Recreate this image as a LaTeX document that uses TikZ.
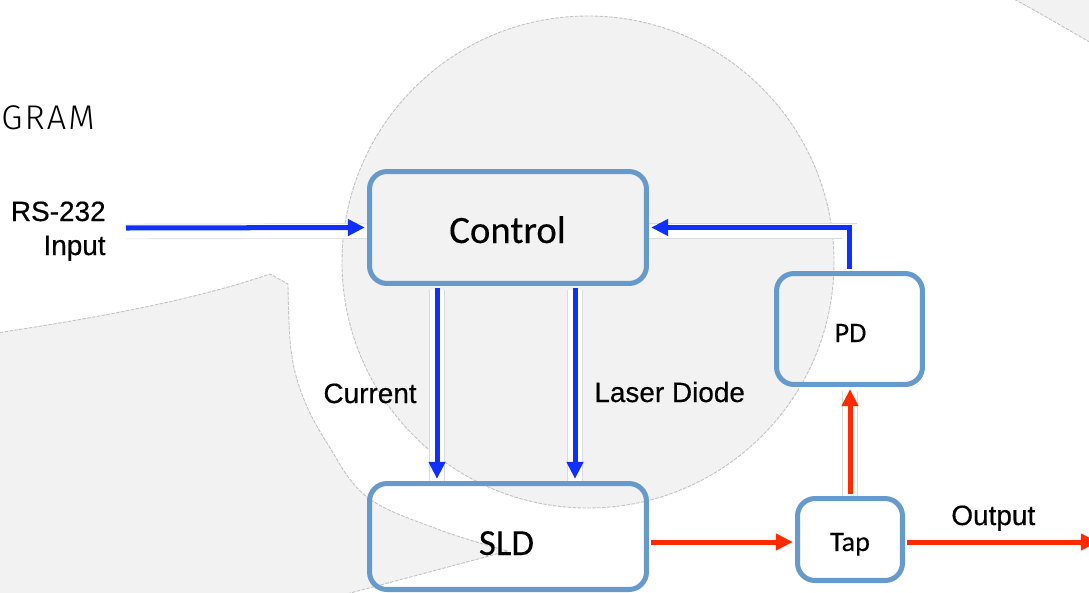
\documentclass[tikz,border=0pt]{standalone}
\usepackage{fontspec}
\setmainfont{Liberation Sans}[FakeBold=0.4]
\newfontfamily\calfont{Carlito}[FakeBold=0.2]
\IfFontExistsTF{Fira Sans Light}{\newfontfamily\gramfont{Fira Sans Light}[LetterSpace=6]}{\newfontfamily\gramfont{Fira Sans}[LetterSpace=6]}
\usetikzlibrary{arrows.meta}
\pgfdeclarelayer{wmlayer}
\pgfdeclarelayer{halolayer}
\pgfsetlayers{wmlayer,halolayer,main}
\definecolor{wm}{HTML}{F2F2F2}
\definecolor{wmline}{HTML}{C2C2C2}
\definecolor{boxblue}{HTML}{6699CC}
\definecolor{arrblue}{HTML}{1030FF}
\definecolor{arrred}{HTML}{FF2A00}
\begin{document}
\begin{tikzpicture}[x=0.02cm,y=-0.02cm,
  box/.style={draw=boxblue, line width=2.85pt, rounded corners=0.35cm, inner sep=0pt},
  wmshape/.style={fill=wm, draw=wmline, line width=0.5pt, dash pattern=on 2pt off 0.8pt},
  flow/.style={line width=2.85pt, -{Triangle[length=9.7pt,width=9.1pt]}, shorten >=1.2pt},
  barrow/.style={flow, draw=arrblue},
  rarrow/.style={flow, draw=arrred},
  fromnode/.style={shorten <=1.4pt},
  halo/.style={draw=black!14, line width=0.4pt, double=white, double distance=8pt, transform canvas={yshift=-2pt}},
  bigtxt/.style={font=\calfont\fontsize{22.1}{26}\selectfont, inner sep=0pt, anchor=base},
  smalltxt/.style={font=\calfont\fontsize{16}{19}\selectfont, inner sep=0pt, anchor=base},
  lab/.style={font=\fontsize{15.9}{19}\selectfont, inner sep=0pt},
  gramtxt/.style={font=\gramfont\fontsize{19.5}{23}\selectfont, text=black, inner sep=0pt}
]
\useasboundingbox (0,0) rectangle (1089,592);
\clip (0,0) rectangle (1089,592);

% watermark
\begin{pgfonlayer}{wmlayer}
\begin{scope}
\clip (0,0) rectangle (1089,592);
\fill[white] (0,0) rectangle (1089,592);
\path[wmshape] (588,262) circle[radius=246];
\path[wmshape] (-10,334) .. controls (110,316) and (200,298) .. (270,274) -- (288,284)
  -- plot[smooth, tension=0.6] coordinates {(288,284) (291,350) (303,397) (327,443) (367,497) (440,530) (508,551)}
  -- (324,600) -- (-10,600) -- cycle;
\path[wmshape] (1010,-3) .. controls (1040,13) and (1065,28) .. (1100,48) -- (1100,-3) -- cycle;
\end{scope}
\end{pgfonlayer}

% boxes
\node[box, minimum width=5.54cm, minimum height=2.24cm] (control) at (508,227.5) {};
\node[box, minimum width=5.54cm, minimum height=2.12cm] (sld) at (508,536.5) {};
\node[box, minimum width=2.92cm, minimum height=2.22cm] (pd) at (849.5,329) {};
\node[box, minimum width=2.10cm, minimum height=1.64cm] (tap) at (850,539.5) {};

% texts
\node[bigtxt] (controltxt) at (507.5,243) {Control};
\node[bigtxt, font=\calfont\fontsize{21}{25}\selectfont] (sldtxt) at (506.5,555) {SLD};
\node[smalltxt] (pdtxt) at (850.5,342) {PD};
\node[smalltxt] (taptxt) at (850,551) {Tap};
\node[lab, anchor=base east] (curtxt) at (417,403) {Current};
\node[lab, anchor=base west] (ldtxt) at (594,402) {Laser Diode};
\node[lab, anchor=base west] (outtxt) at (951,525) {Output};
\node[lab, anchor=base east] (rstxt) at (106,221) {RS-232};
\node[lab, anchor=base east] (inptxt) at (106,255) {Input};
\node[gramtxt, anchor=base west] (gram) at (1,129) {GRAM};

% helper coordinates
\coordinate (inp) at (126,228);
\coordinate (curx) at (437,400);
\coordinate (ldx) at (575,400);
\coordinate (rowy) at (700,542);
\coordinate (outend) at (1100,542);

% halos
\begin{pgfonlayer}{halolayer}
\draw[halo] (inp) -- (control.west);
\draw[halo] (control.south -| curx) -- (sld.north -| curx);
\draw[halo] (control.south -| ldx) -- (sld.north -| ldx);
\draw[halo] (pd.north) |- (control.east);
\draw[halo] (sld.east |- rowy) -- (tap.west |- rowy);
\draw[halo] (tap.north) -- (tap.north |- pd.south);
\draw[halo] (tap.east |- rowy) -- (outend);
\end{pgfonlayer}

% connectors
\draw[barrow] (inp) -- (control.west);
\draw[barrow, fromnode] (control.south -| curx) -- (sld.north -| curx);
\draw[barrow, fromnode] (control.south -| ldx) -- (sld.north -| ldx);
\draw[barrow, fromnode] (pd.north) |- (control.east);
\draw[rarrow, fromnode] (sld.east |- rowy) -- (tap.west |- rowy);
\draw[rarrow, fromnode] (tap.north) -- (tap.north |- pd.south);
\draw[rarrow, fromnode] (tap.east |- rowy) -- (outend);
\end{tikzpicture}
\end{document}
